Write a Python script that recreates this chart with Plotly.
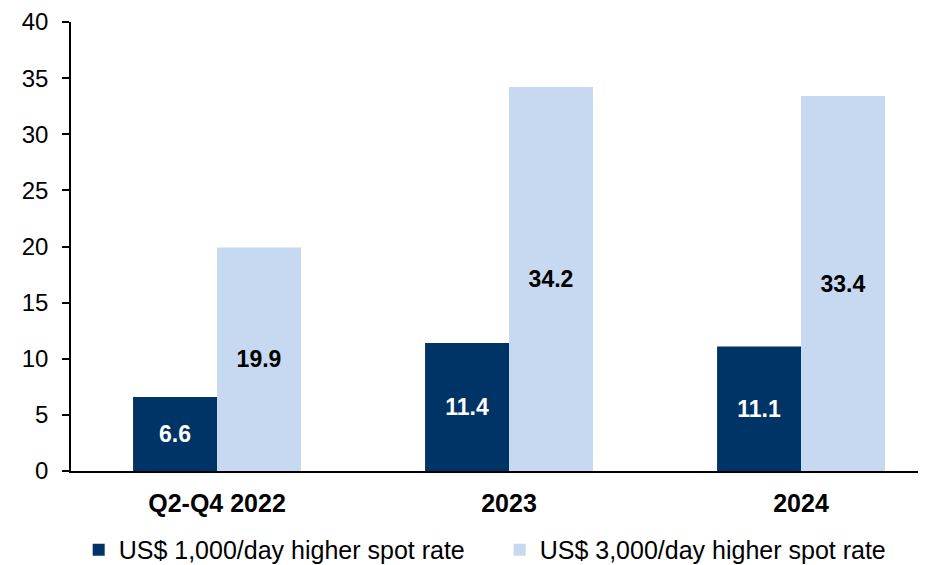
import plotly.graph_objects as go

categories = ["Q2-Q4 2022", "2023", "2024"]
series_1000 = [6.6, 11.4, 11.1]
series_3000 = [19.9, 34.2, 33.4]
name_1000 = "US$ 1,000/day higher spot rate"
name_3000 = "US$ 3,000/day higher spot rate"
y_ticks = [0, 5, 10, 15, 20, 25, 30, 35, 40]

FONT = "Liberation Sans, Arial, sans-serif"

fig = go.Figure()
fig.add_trace(go.Bar(
    x=categories, y=series_1000, name=name_1000,
    marker=dict(color="#003366", line=dict(width=0)),
    text=[f"{v:.1f}" for v in series_1000], textposition="inside",
    insidetextanchor="middle",
    textfont=dict(family=FONT, size=23, color="white", weight="bold"),
))
fig.add_trace(go.Bar(
    x=categories, y=series_3000, name=name_3000,
    marker=dict(color="#C6D9F0", line=dict(width=0)),
    text=[f"{v:.1f}" for v in series_3000], textposition="inside",
    insidetextanchor="middle",
    textfont=dict(family=FONT, size=23, color="black", weight="bold"),
))

# The page body adds an 8px offset, so the figure is 8px smaller and margins shifted
fig.update_layout(
    width=918, height=557,
    margin=dict(l=63, r=0, t=14, b=94),
    plot_bgcolor="white", paper_bgcolor="white",
    barmode="group", bargap=0.425, bargroupgap=0,
    font=dict(family=FONT, size=24, color="black"),
    showlegend=True,
    legend=dict(orientation="h", x=0.009, xanchor="left",
                yref="container", y=0.027, yanchor="middle",
                font=dict(family=FONT, size=25, color="black"),
                entrywidth=376, itemwidth=30, traceorder="normal"),
    uniformtext=dict(mode=False),
)
fig.update_xaxes(
    range=[-0.5, 2.428], showline=True, linecolor="black", linewidth=1.5,
    ticks="", tickfont=dict(family=FONT, size=25, color="black", weight="bold"),
    ticklabelstandoff=9, showgrid=False, zeroline=False, automargin=False,
)
fig.update_yaxes(
    range=[0, 40], tickvals=y_ticks, showline=True, linecolor="black", linewidth=1.5,
    ticks="outside", ticklen=7, tickcolor="black", tickwidth=1.5,
    tickfont=dict(family=FONT, size=24, color="black"),
    ticklabelstandoff=9, showgrid=False, zeroline=False, automargin=False,
)

fig.write_html("out.html")
